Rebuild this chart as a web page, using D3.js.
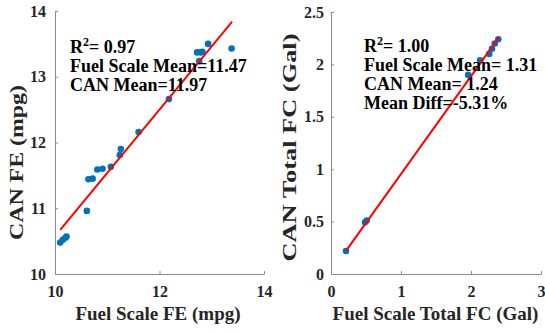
<!DOCTYPE html>
<html>
<head>
<meta charset="utf-8">
<script src="https://cdn.jsdelivr.net/npm/d3@7"></script>
<style>
  body { margin: 0; background: #fff; }
  text { font-family: "Liberation Serif", "Times New Roman", serif; font-weight: bold; }
</style>
</head>
<body>
<div id="chart"></div>
<script>
// left panel: fuel economy
let feScale = [10.10, 10.15, 10.20, 10.22, 10.61, 10.64, 10.72, 10.81, 10.91, 11.07, 11.24, 11.26, 11.60, 12.18, 12.72, 12.76, 12.79, 12.82, 12.93, 13.38];
let feCan   = [10.48, 10.52, 10.55, 10.57, 10.96, 11.44, 11.45, 11.59, 11.60, 11.63, 11.81, 11.90, 12.16, 12.66, 13.37, 13.24, 13.37, 13.38, 13.50, 13.43];
let feFitX = [10.10, 13.39];
let feFitY = [10.67, 13.84];
let feTicksX = [10, 12, 14];
let feTicksY = [10, 11, 12, 13, 14];
let feNotes = ["R2= 0.97", "Fuel Scale Mean=11.47", "CAN Mean=11.97"];

// right panel: total fuel consumed
let fcScale = [0.214, 0.486, 0.51, 1.96, 2.13, 2.26, 2.30, 2.34, 2.39];
let fcCan   = [0.219, 0.493, 0.51, 1.90, 2.04, 2.10, 2.15, 2.20, 2.24];
let fcFitX = [0.214, 2.40];
let fcFitY = [0.22, 2.26];
let fcTicksX = [0, 1, 2, 3];
let fcTicksY = [0, 0.5, 1, 1.5, 2, 2.5];
let fcNotes = ["R2= 1.00", "Fuel Scale Mean= 1.31", "CAN Mean= 1.24", "Mean Diff=-5.31%"];

let svg = d3.select("#chart").append("svg")
    .attr("width", 545)
    .attr("height", 333);

function drawPanel(opt) {
    let g = svg.append("g");
    let x = d3.scaleLinear().domain(opt.xDomain).range([opt.left, opt.right]);
    let y = d3.scaleLinear().domain(opt.yDomain).range([opt.bottom, opt.top]);

    // axes (box off, ticks inside)
    let xAxis = g.append("g")
        .attr("transform", `translate(0,${opt.bottom})`)
        .call(d3.axisBottom(x).tickValues(opt.xTicks).tickSize(-3).tickSizeOuter(0).tickPadding(8).tickFormat(d3.format("")));
    let yAxis = g.append("g")
        .attr("transform", `translate(${opt.left},0)`)
        .call(d3.axisLeft(y).tickValues(opt.yTicks).tickSize(-3).tickSizeOuter(0).tickPadding(opt.yPad).tickFormat(d3.format("")));

    [xAxis, yAxis].forEach(a => {
        a.select(".domain").attr("stroke", "#8c8c8c");
        a.selectAll(".tick line").attr("stroke", "#8c8c8c");
        a.selectAll(".tick text")
            .attr("fill", "#262626")
            .style("font-size", "16px")
            .style("font-family", "Liberation Serif, serif")
            .style("font-weight", "bold");
    });
    xAxis.selectAll(".tick text").attr("y", 23).attr("dy", 0);

    // points
    g.selectAll(".pt")
        .data(opt.xs)
        .enter().append("circle")
        .attr("cx", d => x(d))
        .attr("cy", (d, i) => y(opt.ys[i]))
        .attr("r", 3.3)
        .attr("fill", "#0072BD");

    // fit line
    g.append("line")
        .attr("x1", x(opt.fitX[0])).attr("y1", y(opt.fitY[0]))
        .attr("x2", x(opt.fitX[1])).attr("y2", y(opt.fitY[1]))
        .attr("stroke", "#ff0000")
        .attr("stroke-width", 2);

    // annotations
    opt.notes.forEach((n, i) => {
        let t = g.append("text")
            .attr("x", opt.noteX)
            .attr("y", opt.noteY + i * opt.noteStep)
            .attr("fill", "#000")
            .style("font-size", "18px");
        if (n.startsWith("R2")) {
            t.append("tspan").text("R");
            t.append("tspan").text("2").attr("dy", -7).style("font-size", "12px");
            t.append("tspan").text(n.slice(2)).attr("dy", 7);
        } else {
            t.text(n);
        }
    });

    // axis labels
    g.append("text")
        .attr("x", opt.xLabelX)
        .attr("y", 320)
        .attr("text-anchor", "middle")
        .attr("fill", "#262626")
        .style("font-size", "19px")
        .text(opt.xLabel);
    g.append("text")
        .attr("transform", `translate(${opt.yLabelX},${opt.yLabelY}) rotate(-90)`)
        .attr("text-anchor", "middle")
        .attr("fill", "#262626")
        .attr("textLength", opt.yLabelLen)
        .attr("lengthAdjust", "spacingAndGlyphs")
        .style("font-size", "19px")
        .text(opt.yLabel);
}

drawPanel({
    left: 55, right: 264, top: 11, bottom: 274,
    xDomain: [10, 14], yDomain: [10, 14],
    xTicks: feTicksX, yTicks: feTicksY, yPad: 9,
    xs: feScale, ys: feCan, fitX: feFitX, fitY: feFitY,
    notes: feNotes, noteX: 70, noteY: 53, noteStep: 19,
    xLabel: "Fuel Scale FE (mpg)", xLabelX: 158,
    yLabel: "CAN FE (mpg)", yLabelX: 23, yLabelY: 162.5, yLabelLen: 155
});

drawPanel({
    left: 331, right: 541, top: 12, bottom: 274,
    xDomain: [0, 3], yDomain: [0, 2.5],
    xTicks: fcTicksX, yTicks: fcTicksY, yPad: 7,
    xs: fcScale, ys: fcCan, fitX: fcFitX, fitY: fcFitY,
    notes: fcNotes, noteX: 364, noteY: 52, noteStep: 19,
    xLabel: "Fuel Scale Total FC (Gal)", xLabelX: 435.5,
    yLabel: "CAN Total FC (Gal)", yLabelX: 296, yLabelY: 147.5, yLabelLen: 228
});
</script>
</body>
</html>
